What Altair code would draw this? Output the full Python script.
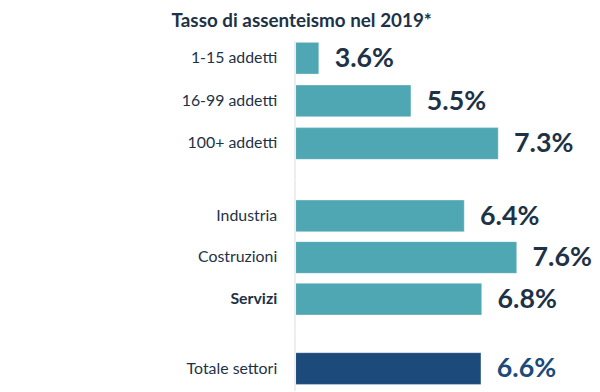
import altair as alt
import pandas as pd

categories = ["1-15 addetti", "16-99 addetti", "100+ addetti",
              "Industria", "Costruzioni", "Servizi", "Totale settori"]
values = [3.6, 5.5, 7.3, 6.4, 7.6, 6.8, 6.6]
groups = ["dimensione", "dimensione", "dimensione",
          "settore", "settore", "settore", "totale"]

TEAL = "#4FA7B3"
NAVY = "#1B4A7B"
DARK = "#1E3246"
FONT = "Lato"

df = pd.DataFrame({"categoria": categories, "valore": values, "gruppo": groups})


def panel(group, height, pin, pout, align, dom):
    cats = [c for c, g in zip(categories, groups) if g == group]
    xscale = alt.Scale(domain=dom, zero=False, clamp=True)
    base = alt.Chart(df).transform_filter(alt.datum.gruppo == group)
    y = alt.Y(
        "categoria:N",
        sort=cats,
        scale=alt.Scale(paddingInner=pin, paddingOuter=pout, align=align),
        axis=alt.Axis(
            title=None, ticks=False, labelPadding=18, labelFontSize=16,
            labelFont=FONT, labelColor=DARK, domain=True, domainColor="#EEEEEE",
            domainWidth=2, zindex=1, minExtent=289, labelLimit=300,
            labelFontWeight={"condition": {"test": "datum.value === 'Servizi'", "value": "bold"},
                             "value": "normal"},
        ),
    )
    bars = base.mark_bar(stroke="white", strokeWidth=1, strokeOpacity=0.35).encode(
        x=alt.X("valore:Q", scale=xscale, axis=None),
        x2=alt.datum(dom[0]),
        y=y,
        color=alt.Color("gruppo:N", scale=alt.Scale(domain=["dimensione", "settore", "totale"],
                                                    range=[TEAL, TEAL, NAVY]), legend=None),
    )
    text = base.transform_calculate(
        etichetta="format(datum.valore, '.1f') + '%'"
    ).mark_text(align="left", baseline="middle", dx=16, dy=1, font=FONT,
                fontWeight="bold", fontSize=27).encode(
        x=alt.X("valore:Q", scale=xscale, axis=None),
        y=y,
        text="etichetta:N",
        color=alt.Color("gruppo:N", scale=alt.Scale(domain=["dimensione", "settore", "totale"],
                                                    range=[DARK, DARK, NAVY]), legend=None),
    )
    return alt.layer(bars, text).resolve_scale(color="independent").properties(
        width=247, height=height)


p1 = panel("dimensione", 141, 11 / 43, 11.5 / 43, 2 / 23, [3.1, 8.15])
p2 = panel("settore", 155, 10 / 42, 19.5 / 42, 20 / 39, [2.52, 8.12])
p3 = panel("totale", 57, 0.0, 0.3906, 0.76, [2.52, 7.88])

chart = alt.vconcat(p1, p2, p3, spacing=0).properties(
    title=alt.TitleParams("Tasso di assenteismo nel 2019*", anchor="start", dx=165,
                          font=FONT, fontSize=19, fontWeight="bold", color=DARK,
                          offset=9),
    padding={"left": 0, "top": 3, "right": 0, "bottom": 0},
).configure_view(stroke=None)

chart.save("out.html", embed_options={"renderer": "svg", "actions": False})
